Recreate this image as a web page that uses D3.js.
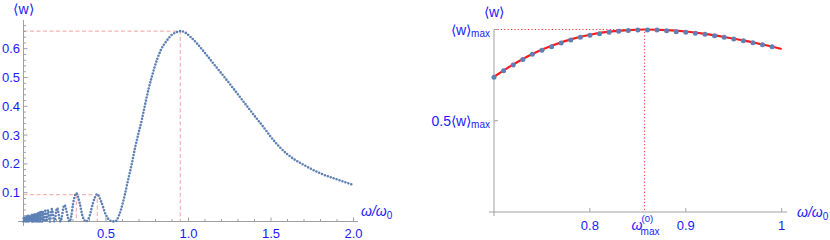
<!DOCTYPE html>
<html><head><meta charset="utf-8">
<script src="https://cdn.jsdelivr.net/npm/d3@7"></script>
<style>
body{margin:0;background:#fff;}
svg text{font-family:"Liberation Sans",Arial,sans-serif;fill:#1a1aff;}
</style></head><body>
<svg id="c" width="830" height="240"></svg>
<script>
// ---- Left panel data: <w> vs omega/omega0 ----
const leftOmega = [0.000,0.002,0.004,0.006,0.008,0.010,0.012,0.014,0.016,0.018,0.020,0.022,0.024,0.026,0.028,0.030,0.032,0.034,0.036,0.038,0.040,0.042,0.044,0.046,0.048,0.050,0.052,0.054,0.056,0.058,0.060,
  0.064,0.066,0.068,0.0701,0.0724,0.0748,0.0774,0.0801,0.083,0.0863,0.0897,0.0935,0.0975,0.102,0.107,0.112,0.118,0.1245,0.132,0.140,0.149,0.160,0.172,0.1866,0.2035,0.2237,0.248,0.279,
  0.290,0.300,0.320,0.340,0.360,0.380,0.400,0.420,0.447,0.470,0.500,0.530,0.556,
  0.570,0.590,0.616,0.636,0.657,0.677,0.697,0.717,0.731,0.758,0.778,0.808,0.833,0.867,0.899,0.925,0.950,0.980,1.010,1.050,1.100,1.150,1.200,1.250,1.300,1.350,1.400,1.450,1.500,1.550,1.600,1.700,1.800,1.900,2.000];
const leftW = [0.000,0.015,0.000,0.016,0.000,0.016,0.000,0.017,0.000,0.018,0.000,0.018,0.000,0.019,0.000,0.020,0.000,0.020,0.000,0.021,0.000,0.022,0.000,0.022,0.000,0.023,0.000,0.024,0.000,0.024,0.000,
  0.026,0.000,0.027,0.000,0.027,0.000,0.028,0.000,0.029,0.000,0.030,0.000,0.031,0.000,0.033,0.000,0.035,0.000,0.037,0.000,0.040,0.000,0.043,0.000,0.047,0.000,0.057,0.000,
  0.020,0.060,0.098,0.065,0.015,0.000,0.018,0.062,0.095,0.070,0.022,0.002,0.000,
  0.010,0.040,0.098,0.150,0.202,0.258,0.306,0.353,0.390,0.460,0.503,0.560,0.596,0.627,0.648,0.657,0.661,0.656,0.642,0.619,0.585,0.549,0.514,0.478,0.441,0.404,0.367,0.331,0.293,0.260,0.233,0.196,0.167,0.146,0.127];
const leftXTicks = [0.5,1.0,1.5,2.0];
const leftXTickLabels = ["0.5","1.0","1.5","2.0"];
const leftYTicks = [0.1,0.2,0.3,0.4,0.5,0.6];
const leftYTickLabels = ["0.1","0.2","0.3","0.4","0.5","0.6"];
const leftPeak = {omega:0.95, w:0.661};
const leftSide = {omegaA:0.32, omegaB:0.447, w:0.093};

// ---- Right panel data: <w>/<w>max vs omega/omega0 ----
const rightOmega = [0.70,0.71,0.72,0.73,0.74,0.75,0.76,0.77,0.78,0.79,0.80,0.81,0.82,0.83,0.84,0.85,0.86,0.87,0.88,0.89,0.90,0.91,0.92,0.93,0.94,0.95,0.96,0.97,0.98,0.99];
const rightW = [0.738,0.774,0.805,0.836,0.864,0.886,0.906,0.926,0.942,0.957,0.968,0.977,0.985,0.991,0.995,0.997,0.997,0.997,0.993,0.988,0.985,0.979,0.974,0.966,0.957,0.948,0.939,0.928,0.917,0.906];
const fitOmega = [0.70,0.72,0.74,0.76,0.78,0.80,0.82,0.84,0.857,0.88,0.90,0.92,0.94,0.96,0.98,1.00];
const fitW = [0.741,0.808,0.866,0.911,0.946,0.971,0.988,0.997,1.000,0.997,0.989,0.976,0.959,0.940,0.918,0.893];
const rightXTicks = [0.8,0.9,1.0];
const rightXTickLabels = ["0.8","0.9","1"];
const rightYTicks = [0.5,1.0];
const rightOmegaMax = 0.857;

const svg = d3.select("#c");
const axisColor = "#a0a0a0";
const dotColor = "#5e81b5";

// ===== LEFT PANEL =====
const lx = d3.scaleLinear().domain([0,2]).range([23.5,353.5]);
const ly = d3.scaleLinear().domain([0,0.6]).range([221.5,48.7]);
const L = svg.append("g");

const dashCol = "#f2a2a2";
L.append("path").attr("d",`M${lx(0)},${ly(leftPeak.w)}H${lx(leftPeak.omega)}V${ly(0)}`)
 .attr("fill","none").attr("stroke",dashCol).attr("stroke-width",1).attr("stroke-dasharray","4,2.5");
L.append("path").attr("d",`M${lx(0)},${ly(leftSide.w)}H${lx(leftSide.omegaB)}V${ly(0)}M${lx(leftSide.omegaA)},${ly(leftSide.w)}V${ly(0)}`)
 .attr("fill","none").attr("stroke",dashCol).attr("stroke-width",1).attr("stroke-dasharray","4,2.5");

L.append("line").attr("x1",18).attr("x2",358).attr("y1",ly(0)).attr("y2",ly(0)).attr("stroke",axisColor);
L.append("line").attr("x1",lx(0)).attr("x2",lx(0)).attr("y1",20).attr("y2",226).attr("stroke",axisColor);
d3.range(1,21).forEach(i=>{const v=i/10; const major=(i%5===0);
  L.append("line").attr("x1",lx(v)).attr("x2",lx(v)).attr("y1",ly(0)).attr("y2",ly(0)-(major?4:2.5)).attr("stroke",axisColor);});
leftXTicks.forEach((v,i)=>L.append("text").attr("x",lx(v)).attr("y",238).attr("text-anchor","middle").attr("font-size",13).text(leftXTickLabels[i]));
d3.range(1,35).forEach(i=>{const v=i/50; const major=(i%5===0);
  L.append("line").attr("x1",lx(0)).attr("x2",lx(0)+(major?4:2.5)).attr("y1",ly(v)).attr("y2",ly(v)).attr("stroke",axisColor);});
leftYTicks.forEach((v,i)=>L.append("text").attr("x",20).attr("y",ly(v)+4.5).attr("text-anchor","end").attr("font-size",13).text(leftYTickLabels[i]));
L.append("text").attr("x",lx(0)).attr("y",14).attr("text-anchor","middle").attr("font-size",14).text("⟨w⟩");
const lxl = L.append("text").attr("x",361).attr("y",216).attr("font-size",14);
lxl.append("tspan").attr("font-style","italic").text("ω/ω");
lxl.append("tspan").attr("font-size",10).attr("dy",3).text("0");

const lineL = d3.line().x((d,i)=>lx(leftOmega[i])).y((d,i)=>ly(leftW[i])).curve(d3.curveMonotoneX);
L.append("path").attr("d",lineL(leftOmega)).attr("fill","none").attr("stroke",dotColor)
 .attr("stroke-width",2.6).attr("stroke-linecap","round").attr("stroke-dasharray","0,3.1");

// ===== RIGHT PANEL =====
const rx = d3.scaleLinear().domain([0.7,1.0]).range([494,781.7]);
const ry = d3.scaleLinear().domain([0,1]).range([212,29.5]);
const R = svg.append("g");
R.append("path").attr("d",`M${rx(0.7)},${ry(1)}H${rx(rightOmegaMax)}V${ry(0)}`)
 .attr("fill","none").attr("stroke","#ff3030").attr("stroke-width",1).attr("stroke-dasharray","1.2,2.2");
R.append("line").attr("x1",489).attr("x2",787).attr("y1",ry(0)).attr("y2",ry(0)).attr("stroke",axisColor);
R.append("line").attr("x1",rx(0.7)).attr("x2",rx(0.7)).attr("y1",ry(1)).attr("y2",216).attr("stroke",axisColor);
rightXTicks.forEach((v,i)=>{
  R.append("line").attr("x1",rx(v)).attr("x2",rx(v)).attr("y1",ry(0)).attr("y2",ry(0)-4).attr("stroke",axisColor);
  R.append("text").attr("x",rx(v)).attr("y",230).attr("text-anchor","middle").attr("font-size",13).text(rightXTickLabels[i]);
});
rightYTicks.forEach(v=>R.append("line").attr("x1",rx(0.7)).attr("x2",rx(0.7)+4).attr("y1",ry(v)).attr("y2",ry(v)).attr("stroke",axisColor));
const om = R.append("text").attr("x",rx(rightOmegaMax)-13).attr("y",230).attr("font-size",14);
om.append("tspan").attr("font-style","italic").text("ω");
R.append("text").attr("x",rx(rightOmegaMax)-3).attr("y",222).attr("font-size",9.5).text("(0)");
R.append("text").attr("x",rx(rightOmegaMax)-4).attr("y",235).attr("font-size",10).text("max");
const yl1 = R.append("text").attr("x",490).attr("y",35).attr("text-anchor","end").attr("font-size",14);
yl1.append("tspan").text("⟨w⟩");
yl1.append("tspan").attr("font-size",10).attr("dy",2).text("max");
const yl2 = R.append("text").attr("x",490).attr("y",ry(0.5)+5).attr("text-anchor","end").attr("font-size",14);
yl2.append("tspan").text("0.5⟨w⟩");
yl2.append("tspan").attr("font-size",10).attr("dy",2).text("max");
R.append("text").attr("x",rx(0.7)).attr("y",17).attr("text-anchor","middle").attr("font-size",14).text("⟨w⟩");
const rxl = R.append("text").attr("x",797).attr("y",217).attr("font-size",14);
rxl.append("tspan").attr("font-style","italic").text("ω/ω");
rxl.append("tspan").attr("font-size",10).attr("dy",3).text("0");
const lineR = d3.line().x((d,i)=>rx(fitOmega[i])).y((d,i)=>ry(fitW[i])).curve(d3.curveMonotoneX);
R.append("path").attr("d",lineR(fitOmega)).attr("fill","none").attr("stroke","#ff1a1a").attr("stroke-width",2.2);
R.selectAll("circle").data(rightOmega).enter().append("circle")
 .attr("cx",d=>rx(d)).attr("cy",(d,i)=>ry(rightW[i])).attr("r",2.5).attr("fill",dotColor);
</script></body></html>
